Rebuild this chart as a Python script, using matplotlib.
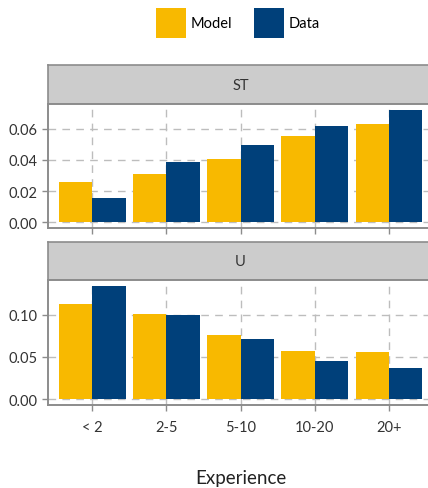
import numpy as np
import matplotlib.pyplot as plt
from matplotlib.patches import Patch

plt.rcParams['font.family'] = ['Lato', 'DejaVu Sans']

categories = ["< 2", "2-5", "5-10", "10-20", "20+"]
panels = ["ST", "U"]
model_st = [0.0257, 0.0308, 0.0404, 0.0551, 0.0628]
data_st = [0.0155, 0.0385, 0.0493, 0.0621, 0.0723]
model_u = [0.1130, 0.1012, 0.0764, 0.0575, 0.0563]
data_u = [0.1342, 0.1000, 0.0717, 0.0457, 0.0374]
yticks_st = [0.00, 0.02, 0.04, 0.06]
yticks_u = [0.00, 0.05, 0.10]

model_color = "#F8B900"
data_color = "#00407A"
grid_color = "#BDBDBD"
border_color = "#8C8C8C"
text_color = "#333333"

W, H = 428, 489
fig = plt.figure(figsize=(W / 100, H / 100), dpi=100)

left = 47.7
right = 433.6

def fig_box(x0, y0, x1, y1):
    return [x0 / W, 1 - y1 / H, (x1 - x0) / W, (y1 - y0) / H]

panel_rows = [
    (66, 105, 229, model_st, data_st, yticks_st),
    (242.7, 281.3, 405.7, model_u, data_u, yticks_u),
]

x = np.arange(len(categories))
w = 0.45

for i, (s_top, p_top, p_bot, model, data, yt) in enumerate(panel_rows):
    # strip on top of each panel
    sax = fig.add_axes(fig_box(left, s_top, right, p_top))
    sax.set_facecolor("#CCCCCC")
    sax.set_xticks([])
    sax.set_yticks([])
    for sp in sax.spines.values():
        sp.set_color(border_color)
        sp.set_linewidth(1.2)
    sax.text(0.5, 0.5, panels[i], ha="center", va="center",
             fontsize=10.5, color=text_color, transform=sax.transAxes)

    ax = fig.add_axes(fig_box(left, p_top, right, p_bot))
    ax.set_axisbelow(True)
    ax.bar(x - w / 2, model, width=w, color=model_color, zorder=2)
    ax.bar(x + w / 2, data, width=w, color=data_color, zorder=2)
    top = max(max(model), max(data))
    ax.set_ylim(-top * 0.05, top * 1.05)
    ax.set_xlim(-0.6, len(categories) - 1 + 0.6)
    ax.set_yticks(yt)
    ax.set_yticklabels(["{:.2f}".format(v) for v in yt])
    ax.set_xticks(x)
    if i == 1:
        ax.set_xticklabels(categories)
    else:
        ax.set_xticklabels([])
    ax.grid(True, color=grid_color, linestyle=(0, (5.5, 4.5)), linewidth=1.0)
    ax.tick_params(colors=border_color, labelcolor=text_color, labelsize=10.5,
                   length=4, width=1.0, pad=3)
    ax.tick_params(axis="x", pad=7)
    for sp in ax.spines.values():
        sp.set_color(border_color)
        sp.set_linewidth(1.4)

fig.text(240.6 / W, 1 - 479 / H, "Experience", ha="center", va="center",
         fontsize=13.5, color="#222222")

handles = [Patch(facecolor=model_color, label="Model"),
           Patch(facecolor=data_color, label="Data")]
fig.legend(handles=handles, loc="upper center", bbox_to_anchor=(0.556, 0.988),
           ncol=2, frameon=False, fontsize=10.5, handlelength=2.05,
           handleheight=2.8, handletextpad=0.35, columnspacing=1.5,
           borderaxespad=0.0, borderpad=0.2)

fig.savefig("out.png", dpi=100)
